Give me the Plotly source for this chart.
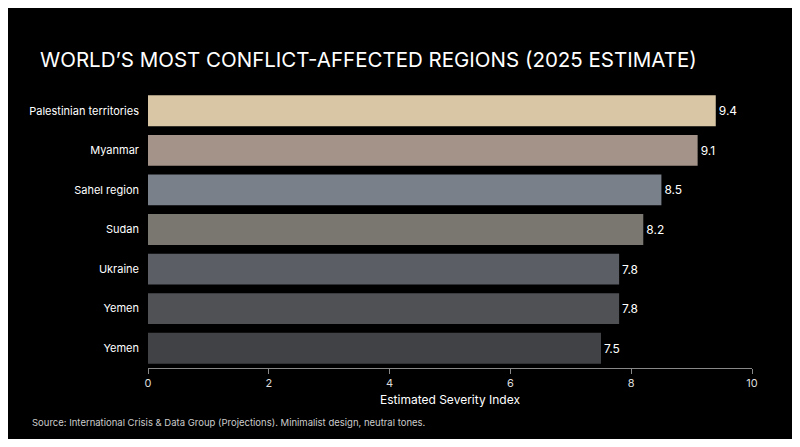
import plotly.graph_objects as go

regions = ["Palestinian territories", "Myanmar", "Sahel region", "Sudan", "Ukraine", "Yemen", "Yemen"]
values = [9.4, 9.1, 8.5, 8.2, 7.8, 7.8, 7.5]
labels = ["9.4", "9.1", "8.5", "8.2", "7.8", "7.8", "7.5"]
colors = ["#d9c6a5", "#a39389", "#79808a", "#7a7670", "#5b5f65", "#4f5155", "#404246"]

pos = list(range(len(regions)))
fig = go.Figure(go.Bar(
    x=values, y=pos, orientation="h", marker=dict(color=colors, line=dict(width=0)),
    text=labels, textposition="outside", textfont=dict(color="#ffffff", size=12),
    width=0.78, cliponaxis=False,
))
fig.update_layout(
    width=784, height=431, paper_bgcolor="#000000", plot_bgcolor="#000000",
    font=dict(family="Inter, Roboto, sans-serif", color="#ffffff"),
    margin=dict(l=140, r=40, t=83, b=71),
    title=dict(text="WORLD’S MOST CONFLICT-AFFECTED REGIONS (2025 ESTIMATE)", x=32/784, xanchor="left",
               y=1 - 52/431, yanchor="middle", font=dict(size=20.5, color="#ffffff")),
    showlegend=False,
    annotations=[dict(text="Source: International Crisis & Data Group (Projections). Minimalist design, neutral tones.",
                      xref="paper", yref="paper", x=(22 - 140) / 604, y=-0.17, xanchor="left", yanchor="top",
                      showarrow=False, font=dict(size=9.5, color="#cccccc"))],
)
fig.update_xaxes(range=[0, 10], dtick=2, showgrid=False, zeroline=False, showline=True,
                 linecolor="#888888", ticks="outside", tickcolor="#888888", ticklen=5,
                 tickfont=dict(size=11, color="#dddddd"),
                 title=dict(text="Estimated Severity Index", font=dict(size=12, color="#ffffff"), standoff=6))
fig.update_yaxes(tickvals=pos, ticktext=regions, autorange="reversed", showgrid=False,
                 zeroline=False, showline=False, ticks="", tickfont=dict(size=11, color="#ffffff"), ticklabelstandoff=8)
fig.write_html("out.html")
